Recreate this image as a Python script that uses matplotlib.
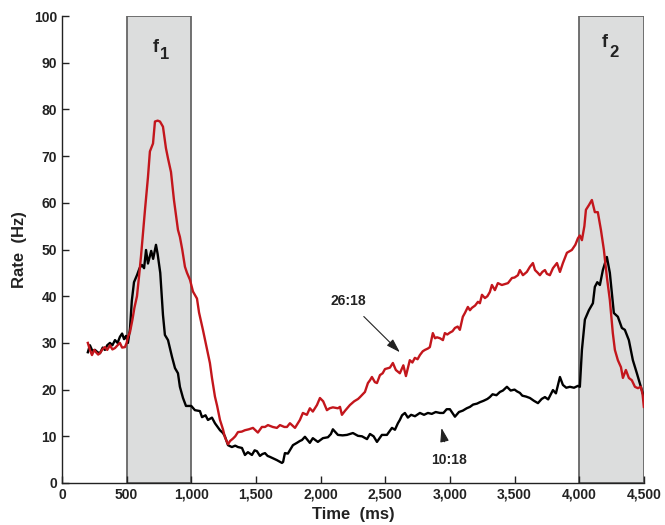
import matplotlib
matplotlib.use("Agg")
import matplotlib.pyplot as plt
from matplotlib.ticker import FuncFormatter

plt.rcParams['font.family'] = ['Liberation Sans', 'DejaVu Sans']
plt.rcParams['font.weight'] = 'bold'

# ---- data ----
t_black = [200, 216, 235, 255, 275, 294, 315, 332, 350, 371, 390, 410, 430, 448, 465, 480, 495,
           510, 526, 540, 557, 580, 600, 618, 635, 650, 665, 690, 705, 727, 740, 760, 781, 796,
           820, 851, 874, 897, 912, 936, 959, 1000, 1028, 1067, 1083, 1110, 1129, 1160, 1183,
           1222, 1245, 1260, 1284, 1314, 1340, 1361, 1392, 1415, 1438, 1469, 1490, 1508, 1531,
           1550, 1570, 1590, 1608, 1640, 1662, 1701, 1710, 1724, 1747, 1786, 1817, 1840, 1856,
           1879, 1917, 1940, 1979, 2018, 2057, 2080, 2095, 2134, 2170, 2204, 2250, 2289, 2320,
           2359, 2382, 2410, 2436, 2474, 2513, 2552, 2575, 2598, 2613, 2630, 2652, 2675, 2700,
           2730, 2768, 2800, 2830, 2860, 2890, 2923, 2950, 2975, 3000, 3020, 3039, 3070, 3100,
           3130, 3155, 3180, 3210, 3232, 3260, 3290, 3309, 3330, 3360, 3387, 3410, 3441, 3470,
           3500, 3520, 3541, 3560, 3590, 3619, 3650, 3681, 3710, 3735, 3760, 3797, 3820, 3851,
           3874, 3900, 3928, 3960, 3990, 4005, 4021, 4044, 4075, 4106, 4121, 4140, 4160, 4183,
           4214, 4237, 4268, 4284, 4299, 4330, 4353, 4384, 4415, 4446, 4477, 4500]
rate_black = [28.0, 29.5, 28.3, 28.5, 28.0, 27.8, 29.0, 28.5, 29.5, 30.0, 29.5, 30.6, 30.0, 31.3,
              32.0, 30.8, 31.5, 30.0, 33.0, 39.0, 43.0, 44.5, 46.0, 46.7, 46.0, 49.9, 47.0, 49.7,
              48.0, 51.0, 49.0, 45.0, 36.0, 31.7, 30.6, 27.0, 24.6, 23.5, 20.6, 18.2, 16.5, 16.5,
              15.6, 15.4, 14.1, 14.5, 13.5, 14.0, 12.8, 11.3, 10.7, 10.0, 8.1, 7.7, 8.0, 7.7, 7.5,
              6.0, 6.6, 6.0, 7.0, 6.8, 5.8, 6.2, 6.4, 5.8, 5.6, 5.2, 4.9, 4.3, 4.5, 6.4, 6.3, 8.1,
              8.6, 9.0, 9.2, 9.9, 8.6, 9.6, 8.8, 9.6, 9.8, 10.5, 11.5, 10.3, 10.2, 10.3, 10.7,
              10.1, 10.0, 9.4, 10.5, 10.0, 8.8, 10.3, 10.3, 11.8, 11.4, 12.8, 13.5, 14.5, 15.0,
              14.0, 14.6, 14.3, 15.0, 14.6, 15.0, 14.8, 15.2, 15.0, 15.0, 15.8, 15.8, 15.0, 14.2,
              15.2, 15.5, 16.0, 16.3, 16.8, 17.0, 17.3, 17.6, 18.0, 18.4, 19.0, 18.8, 19.5, 19.8,
              20.6, 19.8, 20.0, 19.6, 19.3, 18.7, 18.5, 18.2, 17.6, 17.1, 18.0, 18.4, 17.9, 19.9,
              19.2, 22.7, 21.0, 20.4, 20.6, 20.4, 20.8, 20.6, 28.5, 35.0, 37.0, 38.5, 42.0, 43.0,
              42.4, 45.6, 48.4, 45.0, 36.4, 36.0, 35.6, 33.2, 32.8, 30.6, 26.3, 23.5, 20.6, 18.4]

t_red = [200, 216, 232, 250, 263, 280, 294, 315, 332, 350, 371, 390, 410, 430, 448, 465, 487,
         500, 510, 526, 545, 560, 580, 595, 611, 625, 642, 665, 680, 704, 719, 740, 758, 781,
         804, 820, 843, 866, 897, 912, 930, 951, 967, 990, 1013, 1044, 1060, 1090, 1115, 1144,
         1160, 1183, 1200, 1222, 1245, 1260, 1284, 1300, 1322, 1340, 1361, 1390, 1415, 1445,
         1477, 1515, 1546, 1570, 1593, 1630, 1662, 1686, 1720, 1740, 1763, 1802, 1840, 1863,
         1894, 1917, 1940, 1972, 1995, 2020, 2049, 2070, 2095, 2134, 2150, 2165, 2190, 2227,
         2260, 2290, 2305, 2343, 2366, 2382, 2397, 2420, 2436, 2459, 2480, 2498, 2536, 2559,
         2582, 2613, 2640, 2660, 2690, 2710, 2729, 2750, 2768, 2790, 2807, 2830, 2845, 2868,
         2885, 2900, 2923, 2946, 2961, 2980, 3000, 3020, 3039, 3060, 3077, 3100, 3116, 3139,
         3155, 3170, 3195, 3217, 3232, 3248, 3271, 3290, 3309, 3325, 3348, 3371, 3402, 3425,
         3449, 3480, 3500, 3526, 3541, 3565, 3595, 3619, 3642, 3658, 3680, 3696, 3715, 3735,
         3750, 3773, 3797, 3828, 3851, 3874, 3905, 3943, 3970, 3990, 4005, 4021, 4040, 4052,
         4075, 4098, 4121, 4144, 4168, 4191, 4214, 4237, 4260, 4276, 4299, 4323, 4338, 4361,
         4384, 4407, 4431, 4454, 4477, 4490, 4500]
rate_red = [30.0, 28.5, 27.4, 28.5, 28.0, 27.5, 27.8, 28.7, 29.1, 28.5, 29.5, 28.6, 28.9, 29.5,
            30.0, 29.0, 29.1, 30.0, 31.3, 32.3, 35.0, 37.5, 40.0, 44.0, 48.5, 53.0, 58.5, 65.5,
            71.0, 72.7, 77.4, 77.6, 77.4, 76.3, 71.7, 69.5, 66.6, 60.6, 54.2, 52.7, 50.0, 46.3,
            45.0, 43.5, 41.0, 39.5, 36.5, 32.8, 29.5, 25.7, 22.5, 18.5, 16.5, 13.5, 11.5, 9.8,
            8.3, 9.0, 9.5, 10.0, 10.9, 11.0, 11.3, 11.5, 11.8, 10.8, 12.0, 12.0, 12.4, 12.0,
            11.8, 12.4, 12.0, 12.0, 12.8, 11.8, 13.5, 15.0, 14.6, 16.0, 15.3, 16.7, 18.2, 17.5,
            15.6, 16.0, 16.2, 16.0, 16.3, 14.6, 15.5, 16.7, 17.5, 18.0, 18.4, 19.5, 21.4, 22.0,
            22.7, 21.6, 21.4, 23.1, 23.5, 24.4, 24.7, 25.7, 24.2, 23.5, 25.2, 22.9, 26.3, 25.8,
            26.8, 26.5, 27.4, 28.2, 28.5, 28.8, 29.1, 32.1, 31.0, 31.2, 31.0, 30.6, 32.1, 31.8,
            32.2, 32.5, 33.2, 33.5, 32.8, 35.6, 36.4, 37.7, 37.0, 37.5, 38.0, 38.8, 38.5, 40.3,
            39.6, 40.0, 40.9, 42.4, 41.3, 42.8, 42.4, 42.6, 42.8, 43.9, 44.0, 44.5, 45.6, 44.5,
            45.2, 46.3, 47.1, 45.6, 45.0, 44.5, 45.2, 45.6, 44.8, 44.5, 46.0, 47.1, 45.2, 47.1,
            49.3, 49.9, 51.0, 52.4, 53.0, 52.0, 55.0, 58.5, 59.5, 60.6, 58.0, 58.0, 54.2, 49.9,
            44.1, 39.2, 32.1, 28.5, 26.3, 24.8, 22.5, 24.2, 22.5, 22.0, 20.6, 20.3, 20.6, 19.0,
            16.3]

stim_windows = [(500, 1000), (4000, 4500)]
stim_subscripts = ['1', '2']
x_ticks = list(range(0, 4501, 500))
y_ticks = list(range(0, 101, 10))

# ---- figure ----
fig = plt.figure(figsize=(6.65, 5.25), dpi=100)
ax = fig.add_axes([0.0932, 0.08, 0.875, 0.8895])

label_offsets = [(722, 92.3, 792, 90.8), (4197, 93.4, 4272, 91.2)]
for (a, b), sub, (fx, fy, sx, sy) in zip(stim_windows, stim_subscripts, label_offsets):
    ax.axvspan(a, b, ymin=0, ymax=1, facecolor='#dcdddd', edgecolor='#666666',
               linewidth=1.3, zorder=1)
    ax.text(fx, fy, 'f', ha='center', va='baseline', fontsize=13,
            fontweight='bold', color='#222222', zorder=3)
    ax.text(sx, sy, sub, ha='center', va='baseline', fontsize=12,
            fontweight='bold', color='#222222', zorder=3)

ax.plot(t_black, rate_black, color='#000000', linewidth=1.7, zorder=4)
ax.plot(t_red, rate_red, color='#c3161c', linewidth=1.7, zorder=5)

arrow_kw = dict(arrowstyle='-|>,head_length=0.7,head_width=0.22', color='#222222',
                lw=0.8, shrinkA=6, shrinkB=0, mutation_scale=12)
ax.annotate('26:18', xy=(2613, 28.0), xytext=(2212, 39.0), ha='center', va='center',
            fontsize=10, fontweight='bold', color='#222222', arrowprops=arrow_kw)
ax.annotate('10:18', xy=(2935, 11.8), xytext=(2990, 5.0), ha='center', va='center',
            fontsize=10, fontweight='bold', color='#222222', arrowprops=arrow_kw)

ax.set_xlim(0, 4500)
ax.set_ylim(0, 100)
ax.set_xticks(x_ticks)
ax.set_yticks(y_ticks)
ax.xaxis.set_major_formatter(FuncFormatter(lambda v, p: f'{int(v):,}'))
ax.tick_params(direction='in', length=5, width=1, labelsize=10, colors='#222222')
for lab in ax.get_xticklabels() + ax.get_yticklabels():
    lab.set_fontweight('bold')

for s in ['top', 'right']:
    ax.spines[s].set_visible(False)
for s in ['left', 'bottom']:
    ax.spines[s].set_linewidth(1.0)
    ax.spines[s].set_color('#222222')

ax.set_xlabel('Time  (ms)', fontsize=12, fontweight='bold', color='#222222', labelpad=4)
ax.set_ylabel('Rate  (Hz)', fontsize=12, fontweight='bold', color='#222222', labelpad=5)

fig.savefig('out.png', dpi=100)
